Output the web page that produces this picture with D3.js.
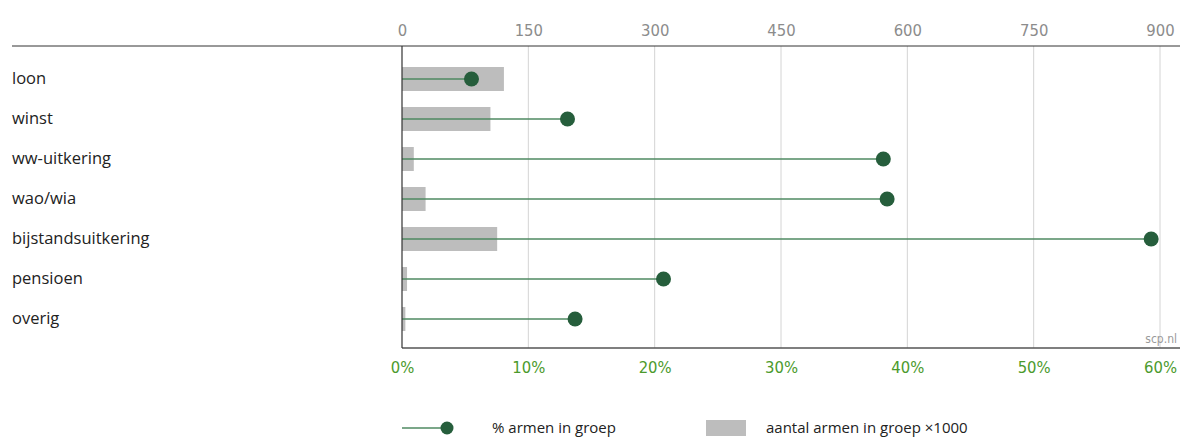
<!DOCTYPE html>
<html>
<head>
<meta charset="utf-8">
<script src="https://cdn.jsdelivr.net/npm/d3@7"></script>
<style>
  body { margin: 0; background: #fff; }
  svg { display: block; }
</style>
</head>
<body>
<div id="chart"></div>
<script>
// ===================================================================

const categories = ['loon', 'winst', 'ww-uitkering', 'wao/wia', 'bijstandsuitkering', 'pensioen', 'overig']
const aantal = [121, 105, 14, 28, 113, 6, 4]
const percentage = [5.5, 13.1, 38.1, 38.4, 59.3, 20.7, 13.7]

const aantalTicks = [0, 150, 300, 450, 600, 750, 900]
const pctTicks = [0, 10, 20, 30, 40, 50, 60]

const legendLabels = ['% armen in groep', 'aantal armen in groep ×1000']

// ===================================================================

const WIDTH = 1180
const HEIGHT = 438

const LEFT = 402
const RIGHT = 1160
const TOP = 46
const BOTTOM = 348

const NARROW = "'Liberation Sans Narrow', 'DejaVu Sans Condensed', sans-serif"
const LABEL_FONT = "'Open Sans', 'Noto Sans', sans-serif"

const LINE_COLOR = '#4f8a62'
const DOT_COLOR = '#265e3c'
const BAR_COLOR = '#bdbdbd'

const svg = d3.select('#chart')
  .append('svg')
    .attr('width', WIDTH)
    .attr('height', HEIGHT)

const x = d3.scaleLinear().domain([0, 900]).range([LEFT, RIGHT])
const xp = d3.scaleLinear().domain([0, 60]).range([LEFT, RIGHT])
const y = d3.scaleBand()
  .domain(categories)
  .range([TOP + 13, TOP + 13 + 40 * categories.length])
  .paddingInner(0.4)
  .paddingOuter(0.2)

// gridlines
svg.append('g')
  .selectAll('line')
  .data(aantalTicks.slice(1))
  .join('line')
    .attr('x1', d => x(d))
    .attr('x2', d => x(d))
    .attr('y1', TOP)
    .attr('y2', BOTTOM)
    .attr('stroke', '#d4d4d4')
    .attr('stroke-width', 1)

// top axis
const topAxis = svg.append('g')
  .attr('transform', `translate(0, ${TOP})`)
  .call(d3.axisTop(x).tickValues(aantalTicks).tickSize(0).tickPadding(10))
topAxis.select('.domain').remove()
topAxis.selectAll('text')
  .attr('fill', '#8c8c8c')
  .style('font-family', NARROW)
  .style('font-size', '16.5px')

svg.append('line')
  .attr('x1', 12).attr('x2', WIDTH)
  .attr('y1', TOP).attr('y2', TOP)
  .attr('stroke', '#333').attr('stroke-width', 1)

// bottom axis
const bottomAxis = svg.append('g')
  .attr('transform', `translate(0, ${BOTTOM})`)
  .call(d3.axisBottom(xp).tickValues(pctTicks).tickFormat(d => d + '%').tickSize(0).tickPadding(13))
bottomAxis.select('.domain').remove()
bottomAxis.selectAll('text')
  .attr('fill', '#4b9a2c')
  .style('font-family', NARROW)
  .style('font-size', '16.5px')

svg.append('line')
  .attr('x1', LEFT).attr('x2', WIDTH)
  .attr('y1', BOTTOM).attr('y2', BOTTOM)
  .attr('stroke', '#555').attr('stroke-width', 1.5)

// bars
svg.append('g')
  .selectAll('rect')
  .data(aantal)
  .join('rect')
    .attr('x', x(0))
    .attr('y', (d, i) => y(categories[i]))
    .attr('width', d => x(d) - x(0))
    .attr('height', y.bandwidth())
    .attr('fill', BAR_COLOR)

// lollipops
const cy = i => y(categories[i]) + y.bandwidth() / 2

svg.append('g')
  .selectAll('line')
  .data(percentage)
  .join('line')
    .attr('x1', xp(0))
    .attr('x2', d => xp(d))
    .attr('y1', (d, i) => cy(i))
    .attr('y2', (d, i) => cy(i))
    .attr('stroke', LINE_COLOR)
    .attr('stroke-width', 1.6)

svg.append('g')
  .selectAll('circle')
  .data(percentage)
  .join('circle')
    .attr('cx', d => xp(d))
    .attr('cy', (d, i) => cy(i))
    .attr('r', 7.5)
    .attr('fill', DOT_COLOR)

// vertical axis line
svg.append('line')
  .attr('x1', LEFT).attr('x2', LEFT)
  .attr('y1', TOP).attr('y2', BOTTOM)
  .attr('stroke', '#333').attr('stroke-width', 1.2)

// category labels
svg.append('g')
  .selectAll('text')
  .data(categories)
  .join('text')
    .attr('x', 12)
    .attr('y', (d, i) => cy(i))
    .attr('dy', '0.32em')
    .attr('fill', '#222')
    .style('font-family', LABEL_FONT)
    .style('font-size', '16.5px')
    .text(d => d)

// source
svg.append('text')
  .attr('x', 1177)
  .attr('y', BOTTOM - 5)
  .attr('text-anchor', 'end')
  .attr('fill', '#9a9a9a')
  .style('font-family', NARROW)
  .style('font-size', '12px')
  .text('scp.nl')

// legend
const legend = svg.append('g').attr('transform', 'translate(0, 428)')

legend.append('line')
  .attr('x1', 402).attr('x2', 445)
  .attr('stroke', LINE_COLOR).attr('stroke-width', 1.6)
legend.append('circle')
  .attr('cx', 447).attr('r', 6.5)
  .attr('fill', DOT_COLOR)
legend.append('text')
  .attr('x', 492)
  .attr('dy', '0.35em')
  .attr('fill', '#222')
  .style('font-family', LABEL_FONT)
  .style('font-size', '15px')
  .text(legendLabels[0])

legend.append('rect')
  .attr('x', 706).attr('y', -8)
  .attr('width', 40).attr('height', 16)
  .attr('fill', BAR_COLOR)
legend.append('text')
  .attr('x', 766)
  .attr('dy', '0.35em')
  .attr('fill', '#222')
  .style('font-family', LABEL_FONT)
  .style('font-size', '15px')
  .text(legendLabels[1])
</script>
</body>
</html>
